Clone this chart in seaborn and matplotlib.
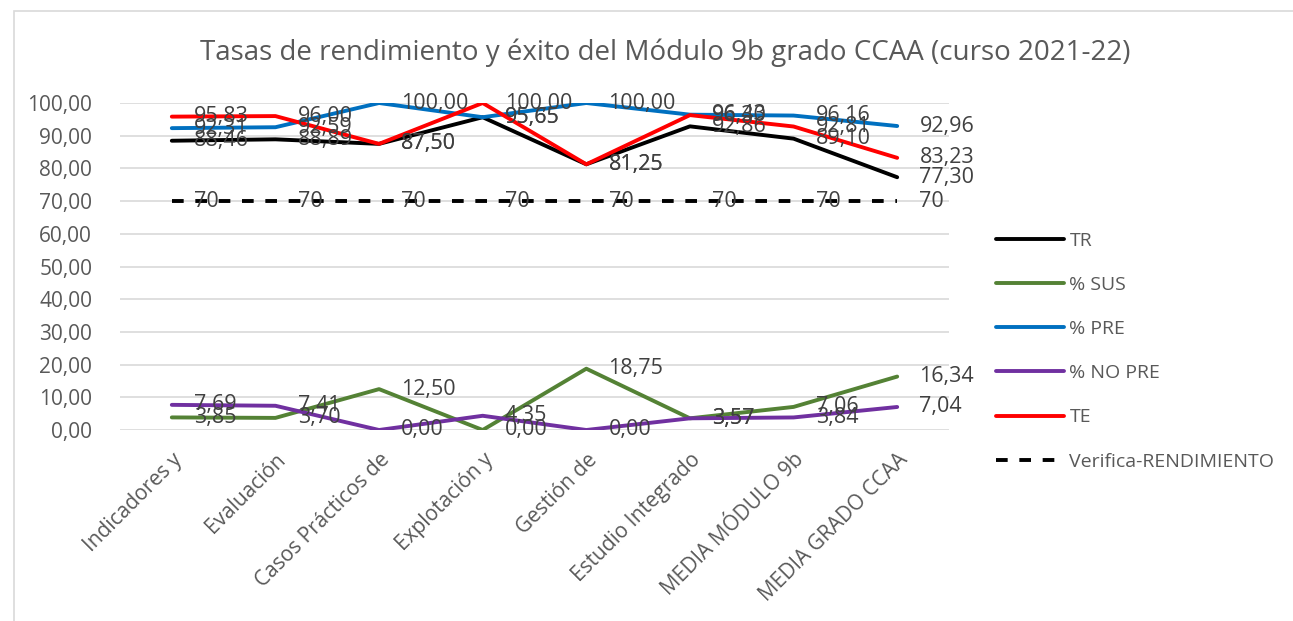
import matplotlib
matplotlib.use("Agg")
import matplotlib.pyplot as plt
import seaborn as sns
import pandas as pd
from matplotlib.patches import Rectangle

categories = ["Indicadores y", "Evaluación", "Casos Prácticos de", "Explotación y",
              "Gestión de", "Estudio Integrado", "MEDIA MÓDULO 9b", "MEDIA GRADO CCAA"]
tr = [88.46, 88.89, 87.50, 95.65, 81.25, 92.86, 89.10, 77.30]
sus = [3.85, 3.70, 12.50, 0.00, 18.75, 3.57, 7.06, 16.34]
pre = [92.31, 92.59, 100.00, 95.65, 100.00, 96.43, 96.16, 92.96]
nopre = [7.69, 7.41, 0.00, 4.35, 0.00, 3.57, 3.84, 7.04]
te = [95.83, 96.00, 87.50, 100.00, 81.25, 96.30, 92.81, 83.23]
verifica = [70, 70, 70, 70, 70, 70, 70, 70]

series_names = ["TR", "% SUS", "% PRE", "% NO PRE", "TE", "Verifica-RENDIMIENTO"]
series_vals = [tr, sus, pre, nopre, te, verifica]
colors = ["#000000", "#548235", "#0070C0", "#7030A0", "#FF0000", "#000000"]

rows = []
for name, vals in zip(series_names, series_vals):
    for i, v in enumerate(vals):
        rows.append({"pos": i, "value": v, "serie": name})
df = pd.DataFrame(rows)

sns.set_theme(style="white")
plt.rcParams["font.family"] = ["Open Sans", "DejaVu Sans"]

W, H = 1293, 621
fig = plt.figure(figsize=(W / 100, H / 100), dpi=100)
ax = fig.add_axes([120 / W, 1 - 430 / H, 829 / W, 327 / H])

dashes = {n: "" for n in series_names}
dashes["Verifica-RENDIMIENTO"] = (3, 3)
sns.lineplot(data=df, x="pos", y="value", hue="serie", style="serie",
             hue_order=series_names, style_order=series_names,
             palette=dict(zip(series_names, colors)), dashes=dashes,
             linewidth=2.8, ax=ax, legend=True)

ax.set_xlim(-0.5, len(categories) - 0.5)
ax.set_ylim(0, 100)
ax.set_yticks(range(0, 101, 10))
ax.set_yticklabels([f"{v:.2f}".replace(".", ",") for v in range(0, 101, 10)])
ax.set_xticks(range(len(categories)))
ax.set_xticklabels(categories, rotation=45, ha="right", rotation_mode="anchor")
ax.tick_params(axis="both", length=0, labelsize=15, colors="#595959")
ax.tick_params(axis="y", pad=20)
ax.tick_params(axis="x", pad=14)
ax.set_xlabel("")
ax.set_ylabel("")
ax.grid(axis="y", color="#D9D9D9", linewidth=1.2)
ax.set_axisbelow(True)
for s in ax.spines.values():
    s.set_visible(False)

for name, vals in zip(series_names, series_vals):
    for i, v in enumerate(vals):
        txt = f"{v:.0f}" if name == "Verifica-RENDIMIENTO" else f"{v:.2f}".replace(".", ",")
        ax.annotate(txt, (i, v), xytext=(16, 0), textcoords="offset points",
                    ha="left", va="center", fontsize=15.5, color="#404040",
                    zorder=10, annotation_clip=False)

handles, labels = ax.get_legend_handles_labels()
leg = ax.legend(handles, labels, loc="upper left",
                bbox_to_anchor=(978 / W, 1 - 214 / H), bbox_transform=fig.transFigure,
                frameon=False, fontsize=14, handlelength=3.5, handletextpad=0.3,
                labelspacing=1.35, labelcolor="#595959")
for lh in leg.get_lines():
    lh.set_linewidth(2.8)

fig.text(665 / W, 1 - 53 / H, "Tasas de rendimiento y éxito del Módulo 9b grado CCAA (curso 2021-22)",
         ha="center", va="center", fontsize=20, color="#595959")

fig.patches.append(Rectangle((14 / W, -0.1), 1.2, 1.1 - 11 / H, transform=fig.transFigure,
                             fill=False, edgecolor="#D9D9D9", linewidth=1.2))

fig.savefig("out.png", dpi=100)
